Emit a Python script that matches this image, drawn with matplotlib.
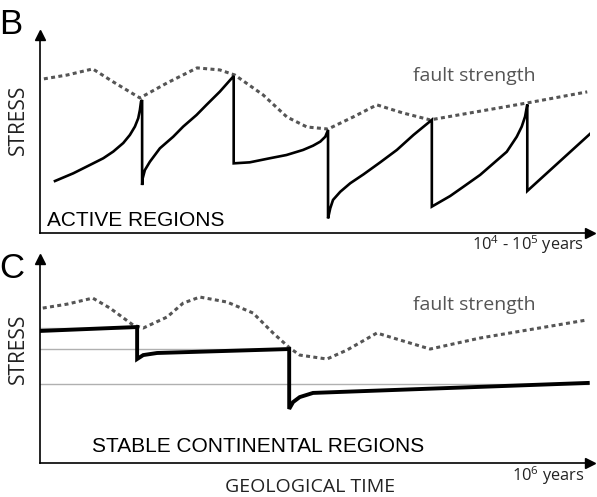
import numpy as np
import matplotlib
matplotlib.use("Agg")
import matplotlib.pyplot as plt

plt.rcParams['mathtext.fontset'] = 'custom'
plt.rcParams['mathtext.rm'] = 'Open Sans'
plt.rcParams['mathtext.it'] = 'Open Sans'

# ---------------- panel B : active regions ----------------
# stress build-up and drops (vertical drops = repeated x)
stress_b_x = [2.7, 6.0, 9.0, 11.4, 13.2, 15.0, 16.2, 17.1, 17.7, 18.0, 18.2, 18.4,
              18.4, 18.5, 18.9, 19.8, 21.6, 24.0, 25.8, 28.2, 30.0, 32.4, 34.9,
              34.9, 37.8, 41.4, 44.4, 47.4, 49.2, 50.5, 51.4, 51.9,
              51.9, 52.3, 52.8, 54.1, 55.9, 58.3, 61.3, 64.3, 67.3, 70.6,
              70.6, 73.9, 76.3, 79.3, 81.7, 84.1, 85.9, 86.8, 87.4, 87.8,
              87.8, 99.5]
stress_b_y = [25.6, 29.4, 33.5, 36.8, 40.1, 44.3, 48.3, 52.4, 56.5, 60.6, 64.7, 65.5,
              23.6, 26.9, 31.0, 35.1, 41.7, 47.4, 52.4, 58.1, 63.1, 69.6, 77.3,
              34.3, 34.8, 36.8, 38.4, 40.9, 43.0, 45.0, 47.4, 50.7,
              7.2, 12.2, 16.3, 20.3, 24.5, 28.9, 34.8, 40.9, 48.3, 55.7,
              13.0, 18.2, 22.8, 28.6, 34.3, 40.0, 47.4, 52.4, 57.3, 63.3,
              20.7, 49.8]

fault_b_x = [0.7, 4.9, 9.5, 13.2, 18.0, 22.9, 28.3, 32.4, 35.1, 40.2, 44.5, 48.1,
             51.9, 56.4, 60.7, 65.4, 70.3, 87.7, 98.6]
fault_b_y = [75.9, 77.8, 80.8, 74.4, 66.5, 73.9, 81.3, 80.3, 77.8, 68.0, 57.1, 52.2,
             51.2, 57.1, 63.1, 59.1, 55.7, 64.0, 69.5]

# ---------------- panel C : stable continental regions ----------------
stress_c_x = [0, 17.5, 17.5, 18.6, 21.1, 44.9, 44.9, 45.6, 46.8, 49.2, 98.7]
stress_c_y = [63.5, 65.4, 50.0, 51.9, 52.9, 54.8, 26.0, 29.3, 31.7, 33.7, 38.5]

fault_c_x = [0.5, 4.9, 9.5, 12.6, 16.8, 18.6, 22.9, 25.8, 28.8, 33.7, 38.4, 42.0,
             45.0, 46.8, 51.7, 55.3, 60.7, 64.9, 70.3, 79.3, 98.6]
fault_c_y = [74.5, 76.4, 79.3, 74.5, 66.3, 64.9, 70.2, 76.9, 79.8, 77.4, 72.1, 62.5,
             55.3, 51.9, 50.0, 54.3, 62.5, 59.1, 54.8, 60.1, 68.8]

# reference stress levels (y, x end)
ref_levels = [64.9, 54.8, 38.0]
ref_ends = [17.5, 44.9, 98.7]

W, H = 597, 497
fig = plt.figure(figsize=(W / 100, H / 100), dpi=100)

dot_col = '#555555'
dash = (0, (1.3, 1.1))


def setup(ax, ytop):
    ax.set_xlim(0, 99.1)
    ax.set_ylim(0, ytop)
    for s in ['top', 'right']:
        ax.spines[s].set_visible(False)
    for s in ['left', 'bottom']:
        ax.spines[s].set_linewidth(1.2)
    ax.set_xticks([])
    ax.set_yticks([])
    ax.patch.set_alpha(0)
    ax.plot(0, 1, '^k', ms=7, transform=ax.transAxes, clip_on=False)
    ax.plot(1, 0, '>k', ms=7, transform=ax.transAxes, clip_on=False)


axB = fig.add_axes([40 / W, 1 - 233 / H, 550 / W, 198 / H])
setup(axB, 97.5)
axB.plot(fault_b_x, fault_b_y, color=dot_col, lw=2.2, ls=dash)
axB.plot(stress_b_x, stress_b_y, color='black', lw=1.9, solid_joinstyle='miter')

axC = fig.add_axes([40 / W, 1 - 463 / H, 550 / W, 204 / H])
setup(axC, 98.1)
for lev, xe in zip(ref_levels, ref_ends):
    axC.plot([0, xe], [lev, lev], color='#b0b0b0', lw=1.0)
axC.plot(fault_c_x, fault_c_y, color=dot_col, lw=2.2, ls=dash)
axC.plot(stress_c_x, stress_c_y, color='black', lw=2.8, solid_joinstyle='miter')


def ftext(x, y, s, **kw):
    fig.text(x / W, 1 - y / H, s, **kw)


# panel letters
ftext(-1, 25, 'B', fontsize=25, family='Liberation Sans', va='center')
ftext(-1, 269, 'C', fontsize=25, family='Liberation Sans', va='center')

# y labels
ftext(18, 120, 'STRESS', fontsize=15, family='Open Sans', rotation=90,
      ha='center', va='center', color='#222222')
ftext(18, 349, 'STRESS', fontsize=15, family='Open Sans', rotation=90,
      ha='center', va='center', color='#222222')

# panel captions
ftext(47, 221, 'ACTIVE REGIONS', fontsize=15, family='Liberation Sans', va='center')
ftext(92, 447, 'STABLE CONTINENTAL REGIONS', fontsize=15, family='Liberation Sans',
      va='center')

# fault strength labels
ftext(413, 76, 'fault strength', fontsize=14, family='Open Sans', color='#555555',
      va='center')
ftext(413, 305, 'fault strength', fontsize=14, family='Open Sans', color='#555555',
      va='center')

# time labels
ftext(584, 245, '10$^4$ - 10$^5$ years', fontsize=11.8, family='Open Sans', ha='right',
      va='center', color='#222222')
ftext(584, 476, '10$^6$ years', fontsize=11.8, family='Open Sans', ha='right',
      va='center', color='#222222')
ftext(310, 487, 'GEOLOGICAL TIME', fontsize=14, family='Open Sans', ha='center',
      va='center', color='#222222')

fig.savefig('out.png', dpi=100)
